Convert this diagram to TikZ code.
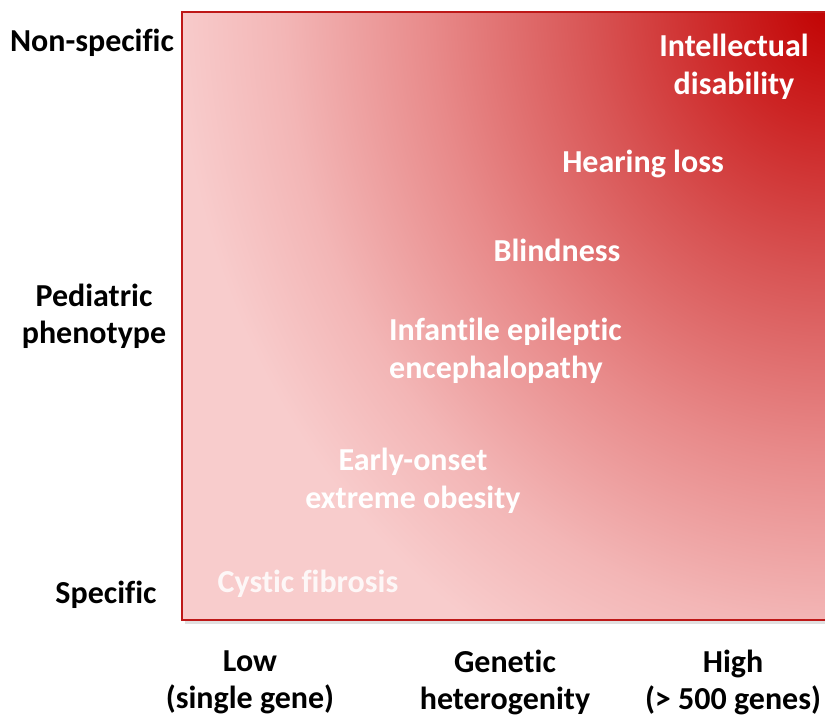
\documentclass[tikz,border=0pt]{standalone}
\usepackage{fontspec}
\setmainfont[Ligatures={NoCommon}]{Carlito}
\definecolor{c0}{RGB}{192,0,0}
\definecolor{c1}{RGB}{204,36,36}
\definecolor{c2}{RGB}{216,84,84}
\definecolor{c3}{RGB}{232,138,138}
\definecolor{c4}{RGB}{243,182,182}
\definecolor{c5}{RGB}{248,204,204}
\definecolor{frame}{RGB}{190,24,24}
\pgfdeclareradialshading{redglow}{\pgfpoint{0bp}{0bp}}{color(0bp)=(c0); color(4bp)=(c1); color(9bp)=(c2); color(15bp)=(c3); color(20.5bp)=(c4); color(24.5bp)=(c5); color(50bp)=(c5)}
\tikzset{
  inlabel/.style={text=white, font=\bfseries\fontsize{32}{38}\selectfont, align=center, inner sep=0pt},
  axlabel/.style={text=black, font=\bfseries\fontsize{32}{37}\selectfont, align=center, inner sep=0pt},
}
\begin{document}
\begin{tikzpicture}[x=1pt,y=-1pt]
\useasboundingbox (0,0) rectangle (825,716);
\fill[white] (0,0) rectangle (825,716);
% shadow
\fill[black!12] (185,619) rectangle (825,624);
\begin{scope}
  \clip (182,12) rectangle (826,620);
  \fill[c5] (182,12) rectangle (826,620);
  \shade[shading=redglow] (832,0) ellipse [x radius=670, y radius=760];
\end{scope}
\draw[frame, line width=1.6pt] (826,12) -- (182,12) -- (182,620) -- (826,620);
% inner labels
\node[inlabel] (id) at (734,67) {Intellectual\\disability};
\node[inlabel] (hl) at (643,164) {Hearing loss};
\node[inlabel] (bl) at (557,250) {Blindness};
\node[inlabel, align=left, anchor=west] (iee) at (389,351) {Infantile epileptic\\encephalopathy};
\node[inlabel] (eo) at (413,481) {Early-onset\\extreme obesity};
\node[inlabel, text opacity=0.85] (cf) at (308,584) {Cystic fibrosis};
% axis labels
\node[axlabel] (ns) at (92,43) {Non-specific};
\node[axlabel] (pp) at (94,316) {Pediatric\\phenotype};
\node[axlabel] (sp) at (106,595) {Specific};
\node[axlabel] (lo) at (250,682) {Low\\(single gene)};
\node[axlabel] (gh) at (505,682) {Genetic\\heterogenity};
\node[axlabel] (hi) at (733,682) {High\\(> 500 genes)};
\end{tikzpicture}
\end{document}
